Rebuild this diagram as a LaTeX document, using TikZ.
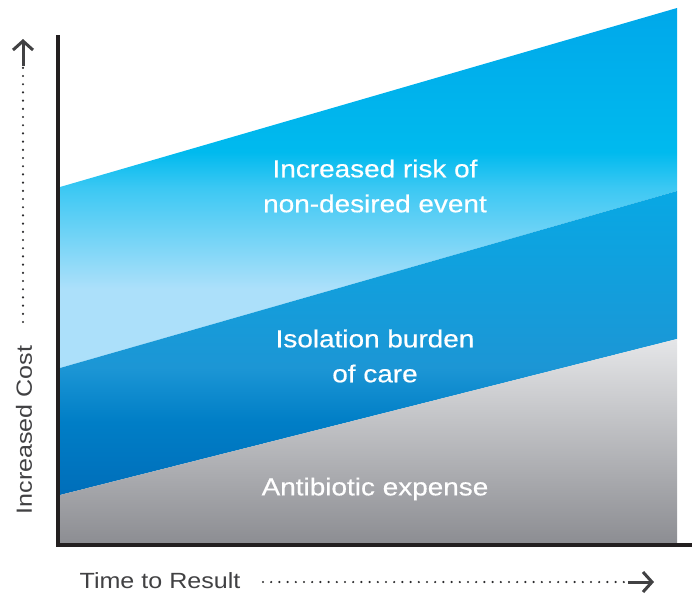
\documentclass[tikz,border=0pt]{standalone}
\usepackage{fontspec}
\setmainfont{Liberation Sans}
\newfontfamily\bandfont[FakeStretch=1.14, FakeBold=0.5]{Liberation Sans}
\newfontfamily\axisfont[FakeStretch=1.14]{Liberation Sans}
\usetikzlibrary{arrows.meta}
\definecolor{axisdark}{RGB}{35,31,32}
\definecolor{labelgray}{RGB}{65,65,67}
\definecolor{dotgray}{RGB}{45,45,47}
\definecolor{riskTop}{RGB}{0,168,234}
\definecolor{riskSat}{RGB}{0,186,238}
\definecolor{riskMid}{RGB}{60,200,243}
\definecolor{riskBot}{RGB}{172,224,250}
\definecolor{isoTop}{RGB}{8,168,228}
\definecolor{isoMid}{RGB}{28,150,213}
\definecolor{isoLow}{RGB}{0,126,198}
\definecolor{isoBot}{RGB}{0,110,186}
\definecolor{abTop}{RGB}{229,230,232}
\definecolor{abBot}{RGB}{140,141,146}
\pgfdeclareverticalshading{riskshade}{100bp}{color(0bp)=(riskBot); color(25bp)=(riskBot); color(36bp)=(riskBot); color(50bp)=(riskMid); color(55bp)=(riskSat); color(75bp)=(riskTop); color(100bp)=(riskTop)}
\pgfdeclareverticalshading{isoshade}{100bp}{color(0bp)=(isoBot); color(25bp)=(isoBot); color(37bp)=(isoLow); color(46bp)=(isoMid); color(75bp)=(isoTop); color(100bp)=(isoTop)}
\tikzset{
  bandtext/.style={text=white, font=\bandfont\fontsize{24.5}{35}\selectfont, align=center},
  axislabel/.style={text=labelgray, font=\axisfont\fontsize{22}{24}\selectfont},
  dotline/.style={dotgray, line width=2.4pt, dash pattern=on 0pt off 8.2pt, line cap=round},
  headline/.style={labelgray, line width=3pt, -{Straight Barb[length=9pt, width=20pt, line width=3pt]}},
  axisline/.style={axisdark, line width=4pt}
}
\begin{document}
\begin{tikzpicture}[x=1pt,y=-1pt]
\useasboundingbox (0,0) rectangle (692,595);
% bands
\shade[shading=riskshade]
  (60,187) -- (677,8) -- (677,191) -- (60,368) -- cycle;
\shade[shading=isoshade]
  (60,368) -- (677,191) -- (677,339) -- (60,495) -- cycle;
\shade[top color=abTop, bottom color=abBot]
  (60,495) -- (677,339) -- (677,544) -- (60,544) -- cycle;
% axes
\coordinate (ytop) at (58,35);
\coordinate (origin) at (58,545);
\coordinate (xend) at (692,545);
\draw[axisline] (ytop) -- (origin) -- (xend);
% band labels
\node[bandtext] (risk) at (375,186) {Increased risk of\\non-desired event};
\node[bandtext] (iso) at (375,356) {Isolation burden\\of care};
\node[bandtext] (ab) at (375,489) {Antibiotic expense};
% y axis label and arrow
\node[axislabel, rotate=90] (ylab) at (24,430) {Increased Cost};
\coordinate (ydotstart) at (23,322);
\coordinate (ydotend) at (23,66);
\coordinate (ytip) at (23,39);
\draw[dotline] (ydotstart) -- (ydotend);
\draw[headline] (ydotend) -- (ytip);
% x axis label and arrow
\node[axislabel] (xlab) at (160,581) {Time to Result};
\coordinate (xdotstart) at (263,582);
\coordinate (xdotend) at (628,582);
\coordinate (xtip) at (654,582);
\draw[dotline] (xdotstart) -- (xdotend);
\draw[headline] (xdotend) -- (xtip);
\end{tikzpicture}
\end{document}
